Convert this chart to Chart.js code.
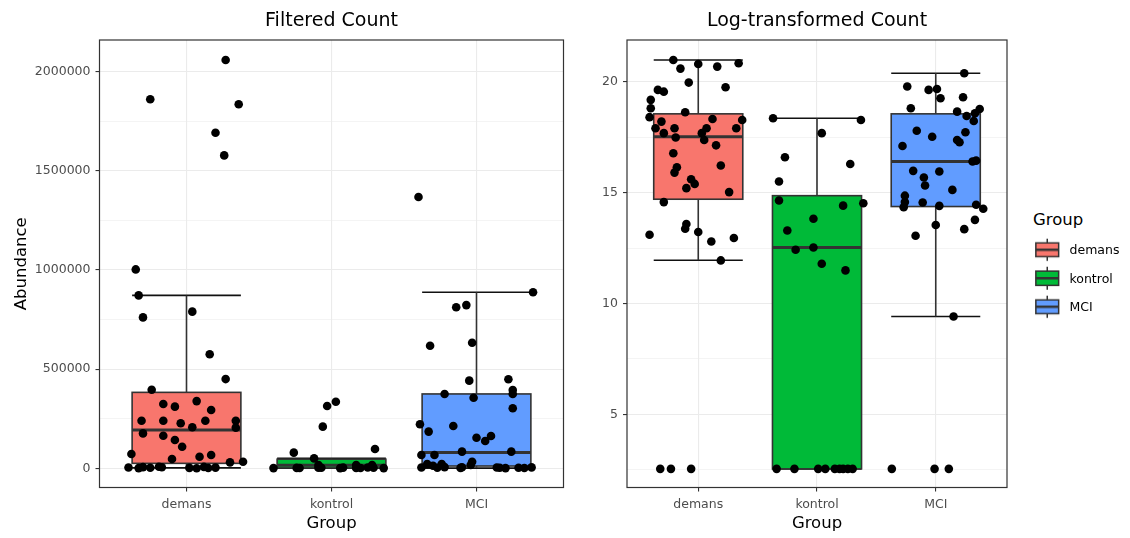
<!DOCTYPE html>
<html><head><meta charset="utf-8">
<script src="https://cdn.jsdelivr.net/npm/chart.js@4/dist/chart.umd.min.js"></script>
<style>
html,body{margin:0;padding:0;background:#fff;}
body{width:1130px;height:538px;position:relative;overflow:hidden;font-family:"DejaVu Sans",sans-serif;}
#c1{position:absolute;left:0;top:0;}
#c2{position:absolute;left:580px;top:0;}
.lg-title{position:absolute;left:1033px;top:210px;font-size:16.5px;line-height:20px;color:#000;white-space:nowrap;}
.lg-row{position:absolute;left:1033px;height:28.5px;display:flex;align-items:center;}
.lg-row span{font-size:12.5px;color:#000;margin-left:8px;white-space:nowrap;}
</style></head><body>
<canvas id="c1" width="580" height="538"></canvas>
<canvas id="c2" width="440" height="538"></canvas>
<div id="legend"></div>
<script>
// ---------- data ----------
const groups = ['demans', 'kontrol', 'MCI'];
const groupColors = ['#F8766D', '#00BA38', '#619CFF'];
const legendTitle = 'Group';

// Filtered Count: [jitter offset, abundance]
const rawDemans = [[0.27,2059000],[-0.25,1861000],[0.36,1836000],[0.20,1692000],[0.26,1578000],[-0.35,1003000],[-0.33,872000],[-0.30,761000],[0.04,790000],[0.16,575000],[0.27,450000],[-0.24,396000],[-0.16,324000],[-0.08,311000],[0.07,339000],[0.17,294000],[-0.31,240000],[-0.16,240000],[-0.04,227000],[0.13,240000],[0.34,240000],[0.34,205000],[0.04,207000],[-0.30,176000],[-0.16,164000],[-0.08,143000],[-0.03,109000],[-0.38,72000],[-0.10,47000],[0.09,58000],[0.17,67000],[0.30,30000],[0.39,33000],[-0.40,4000],[-0.33,1000],[-0.30,6000],[-0.25,3000],[-0.19,8000],[-0.17,5000],[0.02,2000],[0.07,500],[0.12,7000],[0.15,1500],[0.20,3500]];
const rawKontrol = [[-0.03,314000],[0.03,336000],[-0.06,210000],[-0.26,79000],[0.30,97000],[-0.12,50000],[-0.40,1000],[-0.24,2000],[-0.22,1500],[-0.09,16600],[-0.09,3000],[-0.07,2500],[0.06,1000],[0.08,3500],[0.17,16600],[0.17,2000],[0.20,1200],[0.25,4000],[0.28,16000],[0.29,2500],[0.36,1000]];
const rawMCI = [[0.39,888000],[-0.14,812000],[-0.07,823000],[-0.32,618000],[-0.03,633000],[-0.05,442000],[0.22,449000],[0.25,395000],[0.25,375000],[-0.22,375000],[-0.02,356000],[0.25,303000],[-0.39,222000],[-0.16,213000],[-0.33,185000],[0.00,154000],[0.06,138000],[0.10,163000],[-0.10,84000],[0.24,84000],[-0.38,67000],[-0.29,67000],[-0.40,1368000],[-0.34,22000],[-0.30,13000],[-0.24,22000],[-0.03,33000],[-0.04,17000],[-0.38,4000],[-0.27,3000],[-0.22,6000],[-0.11,2000],[-0.10,5000],[0.14,4000],[0.16,2500],[0.20,1000],[0.29,3000],[0.33,1500],[0.38,4500]];
const rawWhiskerLow  = [2000, 1000, 1000];
const rawQ1          = [25000, 2000, 11600];
const rawMedian      = [193000, 16000, 80000];
const rawQ3          = [383000, 46000, 375000];
const rawWhiskerHigh = [872000, 50000, 888000];
const rawMajorTicks = [0, 500000, 1000000, 1500000, 2000000];
const rawMinorTicks = [250000, 750000, 1250000, 1750000];

// Log-transformed Count: [jitter offset, value]
const logDemans = [[-0.21,20.98],[0.00,20.80],[0.16,20.68],[0.34,20.83],[-0.15,20.59],[-0.08,19.96],[0.23,19.75],[-0.34,19.63],[-0.29,19.55],[-0.40,19.18],[-0.40,18.80],[-0.41,18.40],[-0.11,18.62],[-0.31,18.20],[0.12,18.32],[0.37,18.27],[-0.36,17.90],[-0.20,17.90],[0.07,17.90],[0.32,17.90],[-0.29,17.68],[0.03,17.68],[-0.19,17.48],[0.05,17.37],[0.15,17.13],[-0.21,16.77],[0.19,16.22],[-0.18,16.14],[-0.20,15.90],[-0.06,15.60],[-0.03,15.39],[-0.10,15.20],[0.26,15.02],[-0.29,14.57],[-0.41,13.10],[-0.10,13.58],[-0.11,13.37],[0.00,13.22],[0.11,12.79],[0.30,12.95],[0.19,11.94],[-0.32,2.54],[-0.23,2.54],[-0.06,2.54]];
const logKontrol = [[-0.37,18.35],[0.04,17.68],[-0.27,16.59],[-0.32,15.50],[-0.32,14.64],[0.22,14.41],[-0.03,13.82],[-0.25,13.29],[-0.18,12.42],[-0.03,12.52],[0.04,11.79],[0.24,11.49],[0.37,18.27],[0.28,16.29],[0.39,14.52],[-0.34,2.54],[-0.19,2.54],[0.01,2.54],[0.07,2.54],[0.15,2.54],[0.19,2.54],[0.22,2.54],[0.26,2.54],[0.30,2.54]];
const logMCI = [[0.24,20.38],[-0.24,19.78],[-0.06,19.63],[0.01,19.67],[0.04,19.25],[0.23,19.30],[-0.21,18.80],[0.18,18.65],[0.26,18.45],[0.33,18.58],[0.37,18.77],[0.32,18.23],[-0.16,17.79],[0.25,17.72],[-0.03,17.52],[0.18,17.37],[0.20,17.27],[-0.28,17.10],[0.31,16.40],[0.34,16.44],[-0.19,15.98],[0.03,15.95],[-0.10,15.68],[-0.09,15.32],[0.14,15.12],[-0.26,14.86],[-0.26,14.57],[-0.11,14.55],[-0.27,14.34],[0.03,14.40],[0.34,14.45],[0.40,14.27],[0.33,13.77],[0.00,13.54],[0.24,13.35],[-0.17,13.05],[0.15,9.41],[-0.37,2.54],[-0.01,2.54],[0.11,2.54]];
const logWhiskerLow  = [11.95, 2.54, 9.41];
const logQ1          = [14.70, 2.54, 14.37];
const logMedian      = [17.52, 12.52, 16.40];
const logQ3          = [18.55, 14.86, 18.55];
const logWhiskerHigh = [20.98, 18.35, 20.38];
const logMajorTicks = [5, 10, 15, 20];
const logMinorTicks = [2.5, 7.5, 12.5, 17.5];

// ---------- styling ----------
const FONT = '"DejaVu Sans", sans-serif';
const BOX_HALF = 0.375;
const GRID = '#EBEBEB';
const DARK = '#333333';
const TICKTXT = '#4D4D4D';

function makeBoxPlugin(st) {
  return {
    id: 'boxes',
    beforeDatasetsDraw(chart) {
      const ctx = chart.ctx, xs = chart.scales.x, ys = chart.scales.y, ca = chart.chartArea;
      ctx.save();
      ctx.beginPath(); ctx.rect(ca.left, ca.top, ca.right - ca.left, ca.bottom - ca.top); ctx.clip();
      groups.forEach((g, i) => {
        const cx = xs.getPixelForValue(i + 1);
        const x0 = xs.getPixelForValue(i + 1 - BOX_HALF), x1 = xs.getPixelForValue(i + 1 + BOX_HALF);
        const yl = ys.getPixelForValue(st.low[i]), yh = ys.getPixelForValue(st.high[i]);
        const y1 = ys.getPixelForValue(st.q1[i]), y3 = ys.getPixelForValue(st.q3[i]);
        const ym = ys.getPixelForValue(st.med[i]);
        ctx.strokeStyle = '#111'; ctx.lineWidth = 1.6;
        ctx.beginPath(); ctx.moveTo(x0, yl); ctx.lineTo(x1, yl); ctx.moveTo(x0, yh); ctx.lineTo(x1, yh); ctx.stroke();
        ctx.strokeStyle = DARK;
        ctx.beginPath(); ctx.moveTo(cx, yl); ctx.lineTo(cx, yh); ctx.stroke();
        ctx.fillStyle = groupColors[i];
        ctx.fillRect(x0, y3, x1 - x0, y1 - y3);
        ctx.strokeRect(x0, y3, x1 - x0, y1 - y3);
        ctx.lineWidth = 3;
        ctx.beginPath(); ctx.moveTo(x0, ym); ctx.lineTo(x1, ym); ctx.stroke();
      });
      ctx.restore();
    }
  };
}
const borderPlugin = {
  id: 'panelBorder',
  afterDraw(chart) {
    const ctx = chart.ctx, ca = chart.chartArea;
    ctx.save(); ctx.strokeStyle = DARK; ctx.lineWidth = 1.2;
    ctx.strokeRect(ca.left, ca.top, ca.right - ca.left, ca.bottom - ca.top);
    ctx.restore();
  }
};

function toPoints(arr, gi) { return arr.map(p => ({ x: gi + 1 + p[0], y: p[1] })); }

function makeChart(canvas, cfg) {
  const isMajor = v => cfg.major.includes(v);
  return new Chart(canvas, {
    type: 'scatter',
    data: {
      datasets: cfg.series.map((s, i) => ({
        label: groups[i], data: toPoints(s, i),
        backgroundColor: '#000', borderWidth: 0, pointRadius: 4.3, pointHoverRadius: 4.3
      }))
    },
    options: {
      responsive: false, animation: false, events: [],
      layout: { padding: { left: 0, right: cfg.padRight, top: 0, bottom: 0 } },
      plugins: {
        legend: { display: false }, tooltip: { enabled: false },
        title: { display: true, text: cfg.title, fullSize: false, color: '#000',
          font: { family: FONT, size: 19, weight: 'normal' }, padding: { top: 9.5, bottom: 7.7 } }
      },
      scales: {
        x: {
          type: 'linear', min: 0.4, max: 3.6,
          afterBuildTicks: s => { s.ticks = groups.map((g, i) => ({ value: i + 1 })); },
          afterFit: s => { s.height = 50.5; },
          ticks: { autoSkip: false, maxRotation: 0, padding: 5.5, color: TICKTXT,
            font: { family: FONT, size: 12.5 }, callback: v => groups[Math.round(v) - 1] },
          grid: { color: GRID, lineWidth: 1.1, tickLength: 4, tickColor: DARK, tickWidth: 1.1 },
          border: { display: false },
          title: { display: true, text: 'Group', color: '#000', font: { family: FONT, size: 16.5 },
            padding: { top: 0, bottom: 4 } }
        },
        y: {
          type: 'linear', min: cfg.min, max: cfg.max,
          afterBuildTicks: s => { s.ticks = cfg.major.concat(cfg.minor).sort((a, b) => a - b).map(v => ({ value: v })); },
          afterFit: s => { s.width = cfg.yWidth; },
          ticks: { autoSkip: false, padding: 5, color: TICKTXT, font: { family: FONT, size: 12.5 },
            callback: v => isMajor(v) ? String(v) : '' },
          grid: {
            color: GRID,
            lineWidth: c => (c.tick && isMajor(c.tick.value)) ? 1.1 : 0.55,
            tickLength: 4,
            tickColor: c => (c.tick && isMajor(c.tick.value)) ? DARK : 'rgba(0,0,0,0)',
            tickWidth: 1.1
          },
          border: { display: false },
          title: { display: cfg.yTitle !== '', text: cfg.yTitle, color: '#000',
            font: { family: FONT, size: 16.5 }, padding: { top: 12.2, bottom: 0 } }
        }
      }
    },
    plugins: [makeBoxPlugin(cfg.stats), borderPlugin]
  });
}

makeChart(document.getElementById('c1'), {
  title: 'Filtered Count', yTitle: 'Abundance',
  series: [rawDemans, rawKontrol, rawMCI],
  stats: { low: rawWhiskerLow, q1: rawQ1, med: rawMedian, q3: rawQ3, high: rawWhiskerHigh },
  major: rawMajorTicks, minor: rawMinorTicks,
  min: -96800, max: 2160000, yWidth: 99.5, padRight: 16.5
});
makeChart(document.getElementById('c2'), {
  title: 'Log-transformed Count', yTitle: '',
  series: [logDemans, logKontrol, logMCI],
  stats: { low: logWhiskerLow, q1: logQ1, med: logMedian, q3: logQ3, high: logWhiskerHigh },
  major: logMajorTicks, minor: logMinorTicks,
  min: 1.70, max: 21.88, yWidth: 47, padRight: 13
});

// ---------- legend ----------
(function () {
  const lg = document.getElementById('legend');
  const t = document.createElement('div'); t.className = 'lg-title'; t.textContent = legendTitle; lg.appendChild(t);
  groups.forEach((g, i) => {
    const row = document.createElement('div'); row.className = 'lg-row';
    row.style.top = (235.5 + i * 28.5) + 'px';
    const k = document.createElement('canvas'); k.width = 29; k.height = 29; k.style.width = '28.5px'; k.style.height = '28.5px';
    const c = k.getContext('2d'); const w = 28.5, h = 28.5;
    c.strokeStyle = DARK; c.lineWidth = 1.5;
    c.beginPath(); c.moveTo(w / 2, h * 0.1); c.lineTo(w / 2, h * 0.9); c.stroke();
    c.fillStyle = groupColors[i];
    c.fillRect(w * 0.1, h * 0.25, w * 0.8, h * 0.5);
    c.strokeRect(w * 0.1, h * 0.25, w * 0.8, h * 0.5);
    c.lineWidth = 2.5; c.beginPath(); c.moveTo(w * 0.1, h * 0.5); c.lineTo(w * 0.9, h * 0.5); c.stroke();
    row.appendChild(k);
    const s = document.createElement('span'); s.textContent = g; row.appendChild(s);
    lg.appendChild(row);
  });
})();
</script>
</body></html>
